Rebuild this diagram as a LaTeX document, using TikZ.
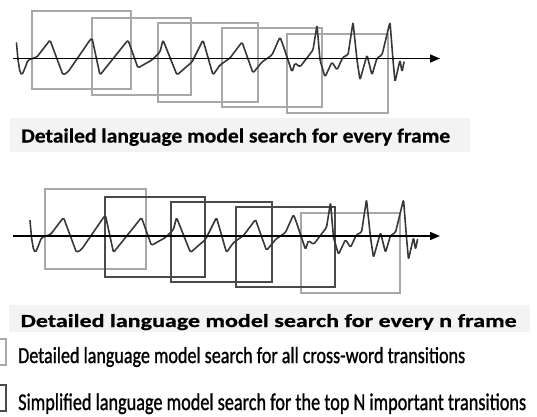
\documentclass[tikz,border=0pt]{standalone}
\usepackage{fontspec}
\setmainfont{Carlito}
\newfontfamily\legfont{Carlito}[FakeBold=1.2]
\newfontfamily\titlefont{Carlito Bold}[FakeBold=0.6]
\usetikzlibrary{arrows.meta}
\definecolor{lightbox}{HTML}{A8A8A8}
\definecolor{darkbox}{HTML}{4A4A4A}
\definecolor{bandgray}{HTML}{F3F3F3}
\definecolor{wavegray}{HTML}{383838}
\tikzset{
  lbox/.style={draw=lightbox, line width=2.4pt},
  dbox/.style={draw=darkbox, line width=2.8pt},
  band/.style={fill=bandgray, draw=none},
  wavestyle/.style={draw=wavegray, line width=1.6pt, line join=round, line cap=round, rounded corners=1.5pt},
  axisline/.style={draw=black, line width=1.5pt, -{Triangle[length=10pt,width=8pt]}},
  txt/.style={inner sep=0pt, anchor=base west, text=black},
}
\newcommand{\wavepath}{%
  (16.5,-15.5) -- (18,1.5) -- (20,13.5) -- (22,16.5) -- (25,9.5) -- (28,1.5) -- (37,-1.5) --
  (50,-18.5) -- (63,16.5) -- (68,13.5) -- (90,-18.5) -- (92,-20.5) -- (100,16.5) -- (112,1.5) --
  (128,-18.5) -- (138,9.5) -- (143,6.5) -- (152,1.5) -- (160,-6.5) -- (163,-18.5) -- (177,16.5) --
  (185,9.5) -- (192,3.5) -- (203,-18.5) -- (213,16.5) -- (220,6.5) -- (230,-0.5) -- (242,-16.5) --
  (253,14.5) -- (262,3.5) -- (272,-3.5) -- (280,-21.5) -- (283,-13.5) -- (292,13.5) -- (295,4.5) --
  (300,8.5) -- (313,-8.5) -- (317,-33.5) -- (320,1.5) -- (325,18.5) -- (332,3.5) -- (337,11.5) --
  (343,-1.5) -- (348,-3.5) -- (353,-36.5) -- (357,1.5) -- (360,21.5) -- (367,-3.5) -- (372,16.5) --
  (377,-0.5) -- (382,-3.5) -- (390,-36.5) -- (393,1.5) -- (395,23.5) -- (400,1.5) -- (402,13.5) -- (404,3.5)}
\begin{document}
\begin{tikzpicture}[x=1pt, y=-1pt]
\useasboundingbox (0,0) rectangle (537,416);

% ---------- top panel ----------
\draw[lbox] (32,11) rectangle (131,89);
\draw[lbox] (92,18) rectangle (191,95);
\draw[lbox] (158,23) rectangle (258,102);
\draw[lbox] (222,28) rectangle (322,107);
\draw[lbox] (287,34) rectangle (388,113);
\begin{scope}[shift={(0,58.5)}]
  \draw[wavestyle] \wavepath;
\end{scope}
\coordinate (axAs) at (13,58.5);
\coordinate (axAe) at (440,58.5);
\draw[axisline] (axAs) -- (axAe);

\fill[band] (10,118) rectangle (470,152);
\node[txt] (title1) at (21,142.5) {\resizebox{429pt}{\height}{\fontsize{20}{24}\titlefont Detailed language model search for every frame}};

% ---------- bottom panel ----------
\draw[lbox] (45,189) rectangle (146,269);
\draw[lbox] (301,213) rectangle (400,293);
\draw[dbox] (105,197) rectangle (205,277);
\draw[dbox] (171,202) rectangle (272,282);
\draw[dbox] (236,207) rectangle (335,287);
\begin{scope}[shift={(13.5,236)}]
  \draw[wavestyle] \wavepath;
\end{scope}
\coordinate (axBs) at (13,236);
\coordinate (axBe) at (440,236);
\draw[axisline] (axBs) -- (axBe);

\fill[band] (9,305) rectangle (530,332);
\node[txt] (title2) at (20.5,327) {\resizebox{496pt}{\height}{\fontsize{18.5}{22}\titlefont Detailed language model search for every n frame}};

% ---------- legend ----------
\draw[lbox] (-20,339) rectangle (6,365);
\node[txt] (leg1) at (18,363) {\resizebox{447pt}{\height}{\fontsize{23}{27}\legfont Detailed language model search for all cross-word transitions}};
\draw[dbox] (-20,385) rectangle (6,411);
\node[txt] (leg2) at (18,410) {\resizebox{508pt}{\height}{\fontsize{24}{28}\legfont Simplified language model search for the top N important transitions}};
\end{tikzpicture}
\end{document}
